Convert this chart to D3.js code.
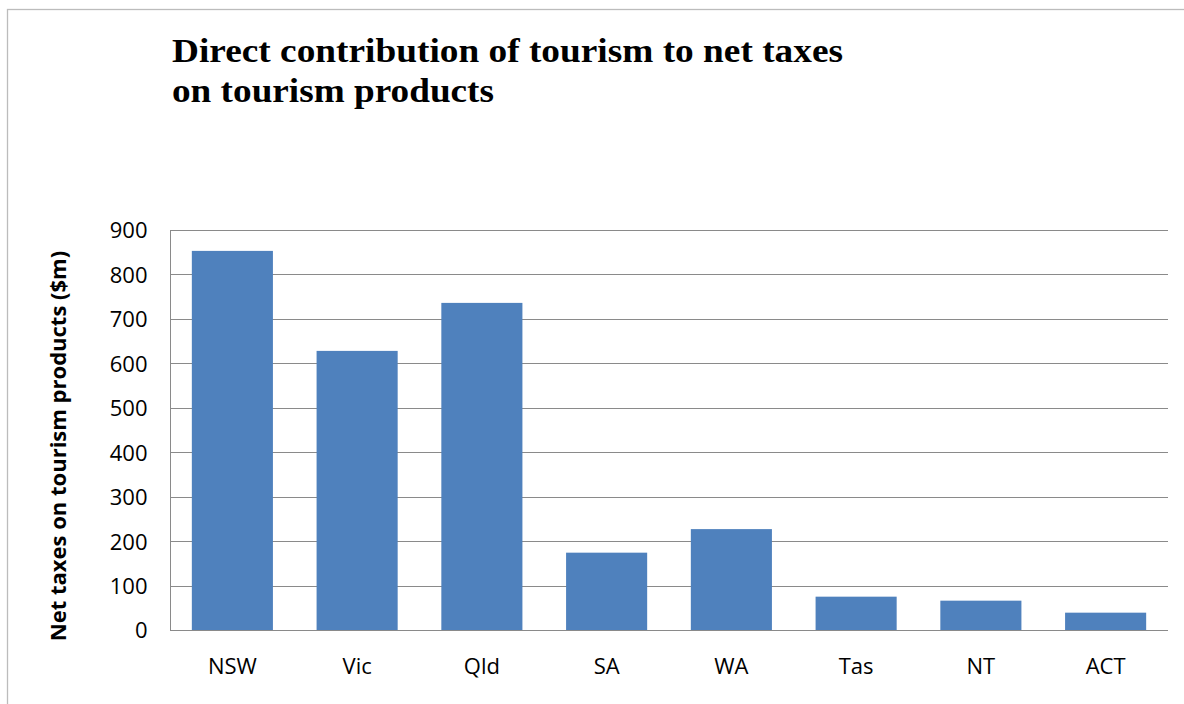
<!DOCTYPE html>
<html><head><meta charset="utf-8">
<script src="https://cdn.jsdelivr.net/npm/d3@7"></script>
<style>body{margin:0;background:#fff;overflow:hidden}svg{display:block}</style>
</head><body>
<script>
const categories = ["NSW","Vic","Qld","SA","WA","Tas","NT","ACT"];
const values = [853, 628, 736, 174, 227, 75, 66, 39];
const yTicks = [0,100,200,300,400,500,600,700,800,900];
const titleLines = ["Direct contribution of tourism to net taxes","on tourism products"];
const yTitle = "Net taxes on tourism products ($m)";

(function(){
const W = 1184, H = 704;
const svg = d3.select("body").append("svg").attr("width", W).attr("height", H);
svg.append("rect").attr("x",7.5).attr("y",9.5).attr("width",W+10).attr("height",H+10)
  .attr("fill","#fff").attr("stroke","#bcbcbc").attr("stroke-width",1.3);

const pL = 170, pR = 1168, pT = 230, pB = 630;
const x = d3.scaleBand().domain(categories).range([pL, pR]).paddingInner(0.35).paddingOuter(0.175);
const y = d3.scaleLinear().domain([0, 900]).range([pB, pT]);

// gridlines
svg.append("g").selectAll("line").data(yTicks).join("line")
  .attr("x1", pL).attr("x2", pR)
  .attr("y1", d => Math.round(y(d))+0.5).attr("y2", d => Math.round(y(d))+0.5)
  .attr("stroke", "#8a8a8a").attr("stroke-width", 1);

// bars
svg.append("g").selectAll("rect").data(categories).join("rect")
  .attr("x", d => x(d)).attr("width", x.bandwidth())
  .attr("y", (d,i) => y(values[i])).attr("height", (d,i) => pB - y(values[i]))
  .attr("fill", "#4f81bd");

// y axis
const yAxis = d3.axisLeft(y).tickValues(yTicks).tickSize(0).tickPadding(23);
const gy = svg.append("g").attr("transform", `translate(${pL+0.5},0)`).call(yAxis);
gy.select(".domain").attr("stroke","#8a8a8a").attr("d", `M0,${pT}V${pB+0.5}`);
gy.selectAll("text").attr("font-family","'Open Sans', sans-serif").attr("font-size",22).attr("fill","#000").attr("dy","0.36em");

// x axis
const xAxis = d3.axisBottom(x).tickSize(0).tickPadding(28);
const gx = svg.append("g").attr("transform", `translate(0,${pB+0.5})`).call(xAxis);
gx.select(".domain").attr("stroke","#8a8a8a").attr("d", `M${pL},0H${pR}`);
gx.selectAll("text").attr("font-family","'Open Sans', sans-serif").attr("font-size",22).attr("fill","#000");

// y title
svg.append("text").attr("transform", `translate(66,446) rotate(-90)`)
  .attr("text-anchor","middle").attr("font-family","'Open Sans', sans-serif")
  .attr("font-weight","bold").attr("font-size",22).text(yTitle);

// title
const titleWidths = [671, 322];
svg.append("g").selectAll("text").data(titleLines).join("text")
  .attr("x", 172).attr("y", (d,i) => 62 + i*40)
  .attr("font-family","'Liberation Serif', 'Times New Roman', serif")
  .attr("font-weight","bold").attr("font-size",34).attr("fill","#000")
  .attr("textLength", (d,i) => titleWidths[i]).attr("lengthAdjust","spacingAndGlyphs")
  .text(d => d);
})();
</script>
</body></html>
